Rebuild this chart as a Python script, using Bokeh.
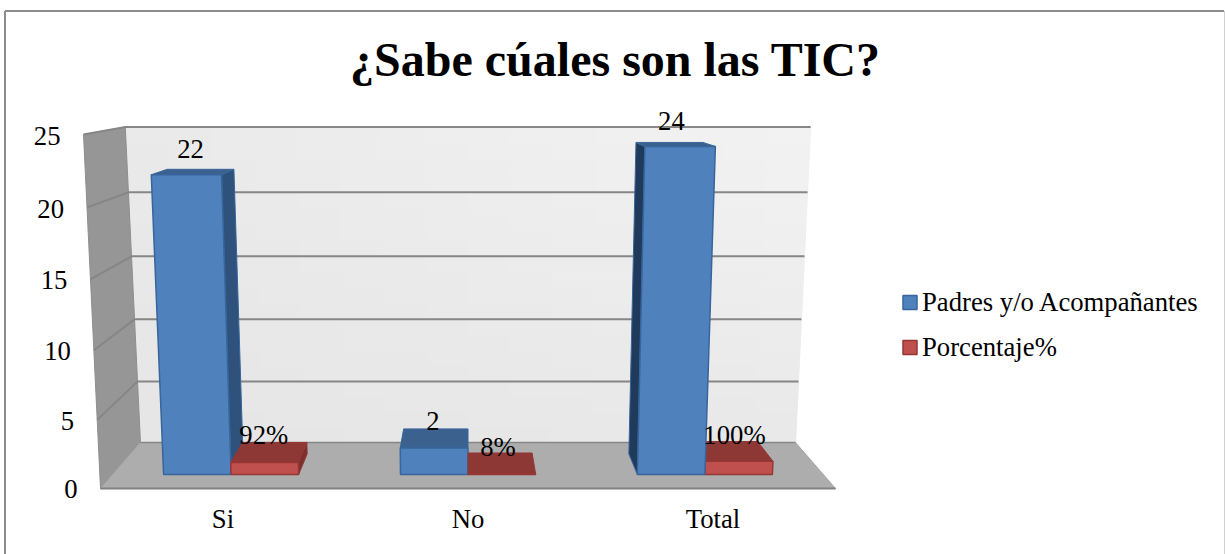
from bokeh.plotting import figure
from bokeh.models import Range1d
from bokeh.core.properties import value
from bokeh.embed import file_html
from bokeh.resources import INLINE

title = "¿Sabe cúales son las TIC?"
categories = ["Si", "No", "Total"]
series_names = ["Padres y/o Acompañantes", "Porcentaje%"]
padres = [22, 2, 24]
porcentaje = [0.92, 0.08, 1.00]
porcentaje_labels = ["92%", "8%", "100%"]
y_ticks = [0, 5, 10, 15, 20, 25]

FONT = value("Liberation Serif")
TXT = "26.7px"
W, H = 1225, 554
p = figure(width=W, height=H, x_range=Range1d(0, W), y_range=Range1d(H, 0),
           output_backend="svg", toolbar_location=None, min_border=0,
           margin=(0, 0, 0, 0))
p.xaxis.visible = False
p.yaxis.visible = False
p.grid.visible = False
p.outline_line_color = None

# --- projection of the Excel-style 3D box (category u 0..1, value v, depth w 0..1)
VMAX = max(y_ticks)
VPX, VPY = 467.5, 66.0
DEPTH_A = 0.122
def proj(u, v, w):
    t = v / VMAX
    f = t / (t + (1 - t) * 1.04)
    yf = 488 - 354 * f
    hw = 367.5 + 17 * f
    xf = VPX + (u - 0.5) * 2 * hw
    s = 1 / (1 + DEPTH_A * w)
    return VPX + (xf - VPX) * s, VPY + (yf - VPY) * s

def face(pts, fill, line=None, lw=1.0):
    xs, ys = zip(*pts)
    p.patch(list(xs), list(ys), fill_color=fill, line_color=line or fill, line_width=lw)

# chart frame
p.line([4.5, 4.5], [H, 10.5], line_color="#8c8c8c", line_width=2)
p.line([4.5, 1223.5], [10.5, 10.5], line_color="#8c8c8c", line_width=2)
p.line([1224, 1224], [10.5, H], line_color="#d0d0d0", line_width=1)

# back wall with a subtle diagonal gradient
NV, NU = 20, 16
for i in range(NV):
    a, b = VMAX * i / NV, VMAX * (i + 1) / NV
    for j in range(NU):
        u0, u1 = j / NU, (j + 1) / NU
        um, vm = (u0 + u1) / 2, (i + 0.5) / NV
        g = int(0xe6 + 3 * um + 4 * vm + 6 * um * vm)
        c = f"#{g:02x}{g:02x}{g:02x}"
        face([proj(u0, a, 1), proj(u1, a, 1), proj(u1, b, 1), proj(u0, b, 1)], c)
# side wall and floor
face([proj(0, 0, 0), proj(0, 0, 1), proj(0, VMAX, 1), proj(0, VMAX, 0)], "#969696", "#8e8e8e")
face([proj(0, 0, 0), proj(1, 0, 0), proj(1, 0, 1), proj(0, 0, 1)], "#adadad", "#a6a6a6")
# floor edges
x0, y0 = proj(0, 0, 0); x1, y1 = proj(1, 0, 0)
p.line([x0, x1], [y0, y1], line_color="#808080", line_width=2)
x0, y0 = proj(0, 0, 1); x1, y1 = proj(1, 0, 1)
p.line([x0, x1], [y0, y1], line_color="#868686", line_width=1.5)
# gridlines
for v in y_ticks:
    if v == 0:
        continue
    a = proj(0, v, 0); b = proj(0, v, 1); c = proj(1, v, 1)
    p.line([a[0], b[0], c[0]], [a[1], b[1], c[1]], line_color="#868686", line_width=2,
           line_join="miter")
for v in y_ticks:
    x, y = proj(0, v, 0)
    p.text([x - 23], [y + 1 if v else y], text=[str(v)], text_font=FONT, text_font_size=TXT,
           text_color="#000000", text_align="right", text_baseline="middle")

# bars
BAR_W, W_F, W_B = 0.095, 0.281, 0.73
BLUE = dict(front="#4f81bd", top="#3b628f", right="#2f527c", left="#1f3a5a", edge="#38659b")
RED = dict(front="#c0504d", top="#8e3836", right="#7c302e", left="#6d2a28", edge="#953735")

def bar(u0, v, st):
    u1 = u0 + BAR_W
    fb0, fb1 = proj(u0, 0, W_F), proj(u1, 0, W_F)
    ft0, ft1 = proj(u0, v, W_F), proj(u1, v, W_F)
    bb0, bb1 = proj(u0, 0, W_B), proj(u1, 0, W_B)
    bt0, bt1 = proj(u0, v, W_B), proj(u1, v, W_B)
    if fb1[0] < VPX - 1:
        face([fb1, bb1, bt1, ft1], st["right"], st["edge"])
    if fb0[0] > VPX + 1:
        face([fb0, bb0, bt0, ft0], st["left"], st["edge"])
    face([ft0, ft1, bt1, bt0], st["top"], st["edge"])
    face([fb0, fb1, ft1, ft0], st["front"], st["edge"], 1.5)

for i, name in enumerate(categories):
    c = (i + 0.5) / len(categories)
    parts = [(c - BAR_W, padres[i], BLUE), (c, porcentaje[i], RED)]
    if c > 0.5:
        parts.reverse()
    for u0, v, st in parts:
        bar(u0, v, st)
    x, _ = proj(c, 0, 0)
    p.text([x], [518], text=[name], text_font=FONT, text_font_size=TXT,
           text_color="#000000", text_align="center", text_baseline="middle")

# data labels: above the rear edge of each bar's top
blue_nudge = [(-10, -20), (-3, -8), (2, -21)]
red_nudge = [(-11, -7), (-2, -6), (9, -6)]
for i in range(3):
    c = (i + 0.5) / 3
    x, y = proj(c - BAR_W / 2, padres[i], W_B)
    p.text([x + blue_nudge[i][0]], [y + blue_nudge[i][1]], text=[str(padres[i])], text_font=FONT,
           text_font_size=TXT, text_color="#000000", text_align="center", text_baseline="middle")
    x, y = proj(c + BAR_W / 2, porcentaje[i], W_B)
    p.text([x + red_nudge[i][0]], [y + red_nudge[i][1]], text=[porcentaje_labels[i]], text_font=FONT,
           text_font_size=TXT, text_color="#000000", text_align="center", text_baseline="middle")

# title
p.text([615], [59], text=[title], text_font=FONT, text_font_style="bold", text_font_size="48px",
       text_color="#000000", text_align="center", text_baseline="middle")

# legend
for (name, st, y) in zip(series_names, (BLUE, RED), (302, 347)):
    p.quad(left=[902.5], right=[916.5], top=[y - 7], bottom=[y + 7], fill_color=st["front"],
           line_color=st["edge"], line_width=1.5)
    p.text([921.5], [y - 1], text=[name], text_font=FONT, text_font_size=TXT,
           text_color="#000000", text_align="left", text_baseline="middle")

open("out.html", "w").write(file_html(p, INLINE))
